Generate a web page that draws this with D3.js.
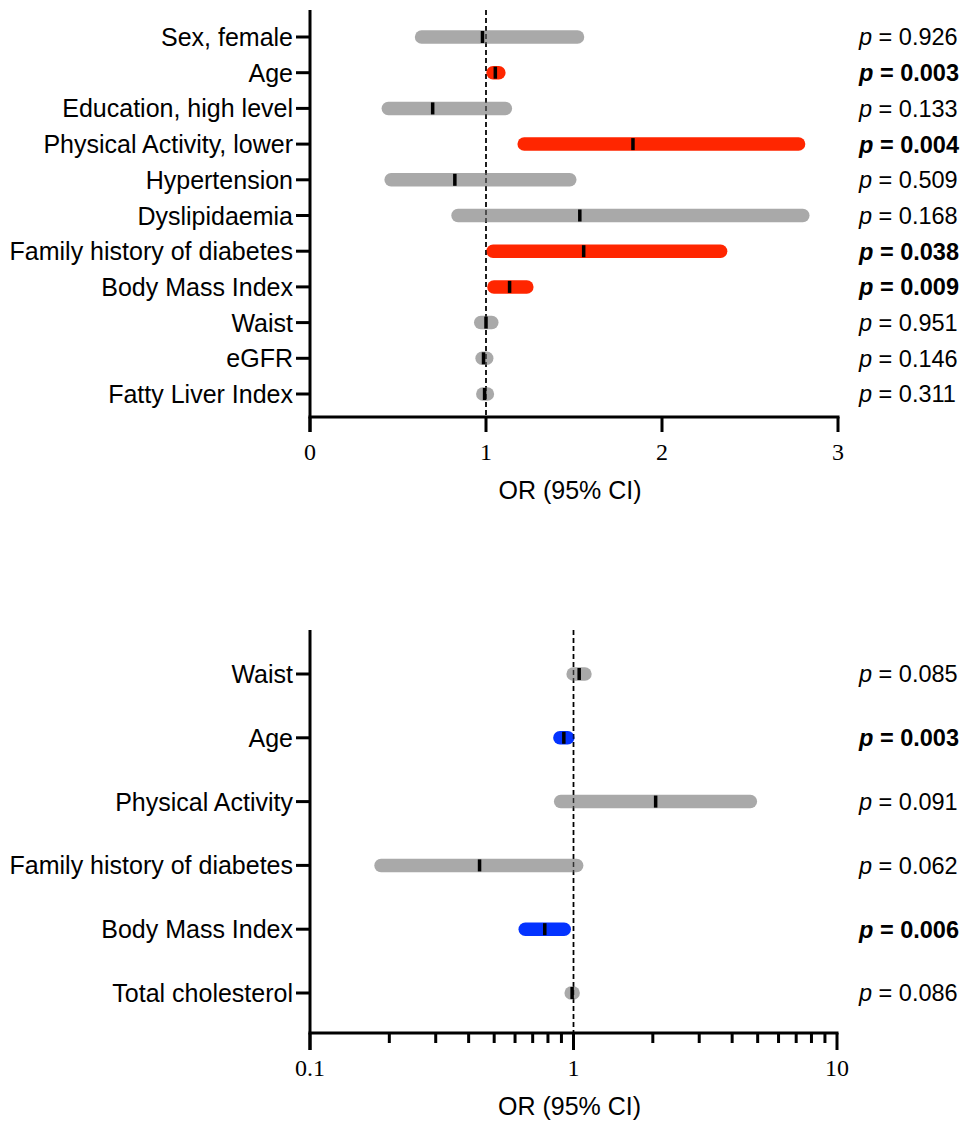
<!DOCTYPE html>
<html>
<head>
<meta charset="utf-8">
<script src="https://d3js.org/d3.v7.min.js"></script>
<style>
body { margin: 0; background: #fff; }
text { font-family: "Liberation Sans", Arial, sans-serif; }
</style>
</head>
<body>
<script>
// ---- data: top panel (linear OR) ----
var topLabels = ["Sex, female", "Age", "Education, high level", "Physical Activity, lower", "Hypertension",
	"Dyslipidaemia", "Family history of diabetes", "Body Mass Index", "Waist", "eGFR", "Fatty Liver Index"];
var topOR   = [0.98, 1.053, 0.697, 1.835, 0.823, 1.533, 1.555, 1.134, 1.0, 0.986, 0.992];
var topLow  = [0.634, 1.04, 0.445, 1.217, 0.461, 0.841, 1.04, 1.045, 0.97, 0.978, 0.982];
var topHigh = [1.52, 1.073, 1.11, 2.776, 1.476, 2.80, 2.333, 1.232, 1.033, 1.004, 1.008];
var topP    = ["0.926", "0.003", "0.133", "0.004", "0.509", "0.168", "0.038", "0.009", "0.951", "0.146", "0.311"];
var topSig  = [0, 1, 0, 1, 0, 0, 1, 1, 0, 0, 0];
var topTicks = [0, 1, 2, 3];

// ---- data: bottom panel (log OR) ----
var botLabels = ["Waist", "Age", "Physical Activity", "Family history of diabetes", "Body Mass Index", "Total cholesterol"];
var botOR   = [1.051, 0.919, 2.05, 0.44, 0.778, 0.988];
var botLow  = [0.997, 0.888, 0.894, 0.186, 0.656, 0.98];
var botHigh = [1.105, 0.951, 4.69, 1.028, 0.922, 0.997];
var botP    = ["0.085", "0.003", "0.091", "0.062", "0.006", "0.086"];
var botSig  = [0, -1, 0, 0, -1, 0];
var botTicks = [0.1, 1, 10];
var botMinor = [0.2, 0.3, 0.4, 0.5, 0.6, 0.7, 0.8, 0.9, 2, 3, 4, 5, 6, 7, 8, 9];

var width = 964, height = 1121;
var grey = "#a9a9a9", red = "#ff2600", blue = "#0433ff";

var svg = d3.select("body").append("svg")
		.attr("width", width)
		.attr("height", height);

function panel(cfg){
	var g = svg.append("g");
	var x0 = cfg.x.range()[0], x1 = cfg.x.range()[1];
	var rows = cfg.labels.map(function(d, i){
		return {label: d, or: cfg.or[i], lo: cfg.lo[i], hi: cfg.hi[i], p: cfg.p[i], sig: cfg.sig[i]};
	});

	var y = d3.scalePoint()
		.domain(cfg.labels)
		.range([cfg.firstRow, cfg.lastRow]);

	// y axis
	g.append("line")
		.attr("x1", x0).attr("x2", x0)
		.attr("y1", cfg.top).attr("y2", cfg.bottom + cfg.majorLen)
		.attr("stroke", "#000").attr("stroke-width", 3);
	g.selectAll(".ytick")
		.data(rows)
	.enter().append("line")
		.attr("x1", x0 - 14).attr("x2", x0)
		.attr("y1", function(d){ return y(d.label); })
		.attr("y2", function(d){ return y(d.label); })
		.attr("stroke", "#000").attr("stroke-width", 3);
	g.selectAll(".ylab")
		.data(rows)
	.enter().append("text")
		.attr("x", x0 - 17)
		.attr("y", function(d){ return y(d.label); })
		.attr("dy", "0.36em")
		.attr("text-anchor", "end")
		.attr("font-size", 25)
		.text(function(d){ return d.label; });

	// x axis
	g.append("line")
		.attr("x1", x0 - 1.5).attr("x2", x1 + 1.5)
		.attr("y1", cfg.bottom).attr("y2", cfg.bottom)
		.attr("stroke", "#000").attr("stroke-width", 3);
	g.selectAll(".xminor")
		.data(cfg.minor)
	.enter().append("line")
		.attr("x1", function(d){ return cfg.x(d); })
		.attr("x2", function(d){ return cfg.x(d); })
		.attr("y1", cfg.bottom).attr("y2", cfg.bottom + 10)
		.attr("stroke", "#000").attr("stroke-width", 3);
	g.selectAll(".xtick")
		.data(cfg.ticks)
	.enter().append("line")
		.attr("x1", function(d){ return cfg.x(d); })
		.attr("x2", function(d){ return cfg.x(d); })
		.attr("y1", cfg.bottom).attr("y2", cfg.bottom + cfg.majorLen)
		.attr("stroke", "#000").attr("stroke-width", 3);
	g.selectAll(".xlab")
		.data(cfg.ticks)
	.enter().append("text")
		.attr("x", function(d){ return cfg.x(d); })
		.attr("y", cfg.bottom + 43)
		.attr("text-anchor", "middle")
		.attr("font-size", 24)
		.style("font-family", "'Liberation Serif', 'Times New Roman', serif")
		.text(function(d){ return d; });
	g.append("text")
		.attr("x", (x0 + x1) / 2 - 4)
		.attr("y", cfg.bottom + 82)
		.attr("text-anchor", "middle")
		.attr("font-size", 25)
		.text("OR (95% CI)");

	// reference line at OR = 1
	g.append("line")
		.attr("x1", cfg.x(1)).attr("x2", cfg.x(1))
		.attr("y1", cfg.top).attr("y2", cfg.bottom)
		.attr("stroke", "#000").attr("stroke-width", 1.5)
		.attr("stroke-dasharray", "5,3");

	// CI bars
	g.selectAll(".ci")
		.data(rows)
	.enter().append("line")
		.attr("x1", function(d){ return cfg.x(d.lo); })
		.attr("x2", function(d){ return cfg.x(d.hi); })
		.attr("y1", function(d){ return y(d.label); })
		.attr("y2", function(d){ return y(d.label); })
		.attr("stroke", function(d){ return d.sig > 0 ? red : d.sig < 0 ? blue : grey; })
		.attr("stroke-width", 13.5)
		.attr("stroke-linecap", "round");

	// dashed line shows through bars in the original
	g.append("line")
		.attr("x1", cfg.x(1)).attr("x2", cfg.x(1))
		.attr("y1", cfg.top).attr("y2", cfg.bottom)
		.attr("stroke", "#000").attr("stroke-width", 1.5)
		.attr("stroke-dasharray", "5,3")
		.attr("opacity", 0.7);

	// OR marks
	g.selectAll(".or")
		.data(rows)
	.enter().append("rect")
		.attr("x", function(d){ return cfg.x(d.or) - 1.75; })
		.attr("y", function(d){ return y(d.label) - 6; })
		.attr("width", 3.5)
		.attr("height", 12)
		.attr("fill", "#000");

	// p values
	var pt = g.selectAll(".pv")
		.data(rows)
	.enter().append("text")
		.attr("x", 859)
		.attr("y", function(d){ return y(d.label); })
		.attr("dy", "0.36em")
		.attr("font-size", 23.5)
		.attr("font-weight", function(d){ return d.sig ? "bold" : "normal"; });
	pt.append("tspan").attr("font-style", "italic").text("p");
	pt.append("tspan").text(function(d){ return " = " + d.p; });
}

var xTop = d3.scaleLinear().domain([0, 3]).range([310, 838]);
panel({
	labels: topLabels, or: topOR, lo: topLow, hi: topHigh, p: topP, sig: topSig,
	x: xTop, ticks: topTicks, minor: [], majorLen: 15,
	top: 10, bottom: 417, firstRow: 37, lastRow: 394
});

var xBot = d3.scaleLog().domain([0.1, 10]).range([310, 837]);
panel({
	labels: botLabels, or: botOR, lo: botLow, hi: botHigh, p: botP, sig: botSig,
	x: xBot, ticks: botTicks, minor: botMinor, majorLen: 17,
	top: 630, bottom: 1033, firstRow: 674, lastRow: 993
});
</script>
</body>
</html>
